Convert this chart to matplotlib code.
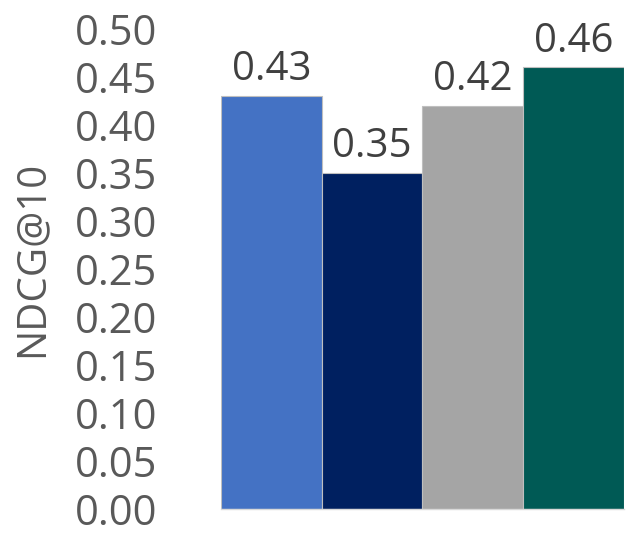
import matplotlib.pyplot as plt

methods = ["A", "B", "C", "D"]
ndcg = [0.43, 0.35, 0.42, 0.46]
colors = ["#4472C4", "#002060", "#A5A5A5", "#005A55"]
yticks = [0.00, 0.05, 0.10, 0.15, 0.20, 0.25, 0.30, 0.35, 0.40, 0.45, 0.50]

plt.rcParams['font.family'] = ['Open Sans', 'DejaVu Sans']

fig = plt.figure(figsize=(6.41, 5.34), dpi=100)
ax = fig.add_axes([0.345, 0.047, 0.628, 0.899])

x = range(len(methods))
bars = ax.bar(x, ndcg, width=1.0, color=colors, edgecolor="#BFBFBF", linewidth=0.8)
ax.bar_label(bars, labels=[f"{v:.2f}" for v in ndcg], padding=4,
             fontsize=29, color="#404040")

ax.set_xlim(-0.5, len(methods) - 0.5)
ax.set_ylim(0, 0.5)
ax.set_yticks(yticks)
ax.set_yticklabels([f"{t:.2f}" for t in yticks])
ax.set_xticks([])
ax.tick_params(axis="y", length=0, pad=46, labelsize=30, labelcolor="#595959")
ax.set_ylabel("NDCG@10", fontsize=29, color="#595959")
ax.yaxis.set_label_coords(-0.42, 0.52)

for side in ["top", "right", "left"]:
    ax.spines[side].set_visible(False)
ax.spines["bottom"].set_color("#D9D9D9")
ax.spines["bottom"].set_linewidth(1.0)

fig.savefig("out.png", dpi=100)
